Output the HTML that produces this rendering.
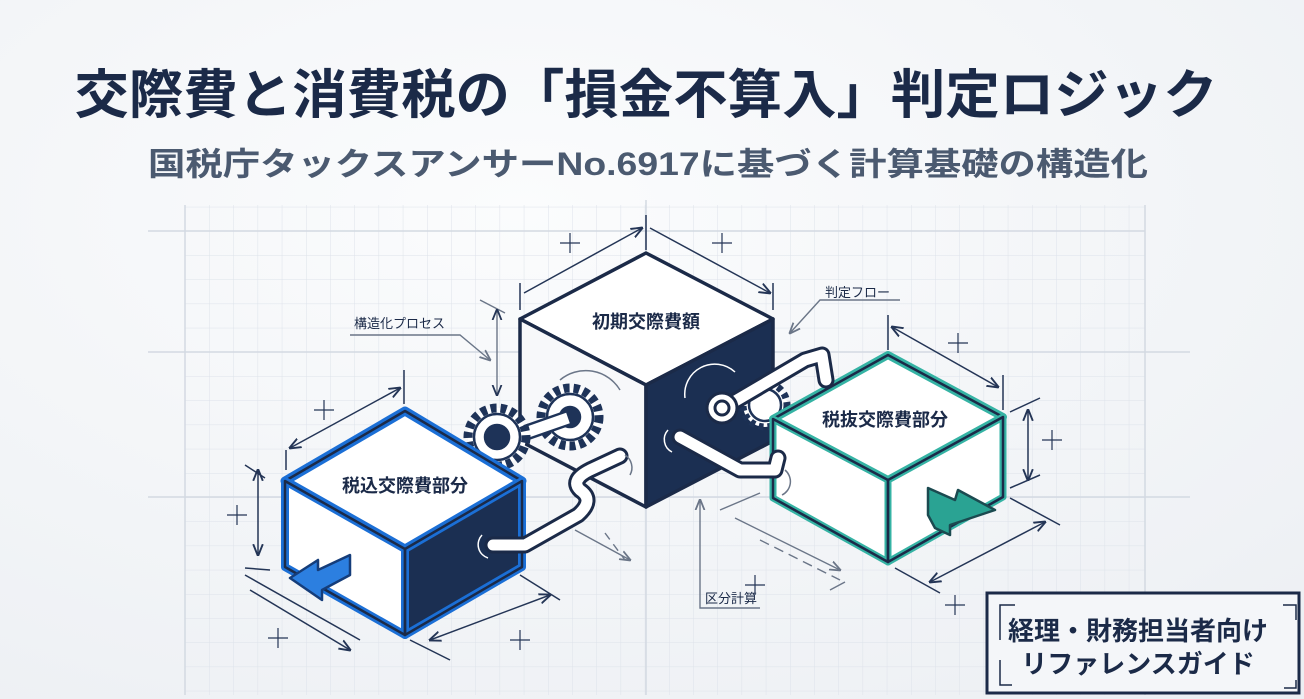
<!DOCTYPE html>
<html><head><meta charset="utf-8"><style>
html,body{margin:0;padding:0;width:1304px;height:699px;overflow:hidden;background:#f3f5f8}
svg{display:block}
</style></head><body>
<svg width="1304" height="699" viewBox="0 0 1304 699" xmlns="http://www.w3.org/2000/svg" font-family="'Liberation Sans','Noto Sans CJK JP',sans-serif">
<defs>
<radialGradient id="bg" cx="0.4" cy="0.3" r="0.9"><stop offset="0" stop-color="#fbfcfd"/><stop offset="1" stop-color="#eceff3"/></radialGradient>
<pattern id="grid" x="185" y="231" width="24.2" height="24.2" patternUnits="userSpaceOnUse"><path d="M0 0V24.2M0 0H24.2" stroke="#dde2ea" stroke-width="1" fill="none"/></pattern>
<marker id="ar" viewBox="0 0 10 10" refX="9" refY="5" markerWidth="8" markerHeight="8" orient="auto-start-reverse"><path d="M0 1L10 5L0 9" fill="none" stroke="#243556" stroke-width="1.6"/></marker>
<marker id="ag" viewBox="0 0 10 10" refX="9" refY="5" markerWidth="8" markerHeight="8" orient="auto-start-reverse"><path d="M0 1L10 5L0 9" fill="none" stroke="#6b7688" stroke-width="1.6"/></marker>
</defs>
<rect width="1304" height="699" fill="url(#bg)"/>
<rect x="185" y="205" width="960" height="490" fill="url(#grid)"/>
<g stroke="#d3d9e2" stroke-width="1.5">
<line x1="148" y1="231" x2="1145" y2="231"/><line x1="148" y1="352" x2="1190" y2="352"/><line x1="148" y1="497" x2="1190" y2="497"/>
<line x1="646" y1="200" x2="646" y2="695"/><line x1="1145" y1="205" x2="1145" y2="695"/><line x1="185" y1="205" x2="185" y2="695"/>
</g>
<text x="646" y="113" text-anchor="middle" font-size="53" font-weight="bold" fill="#1b2a48" textLength="1143" lengthAdjust="spacingAndGlyphs">交際費と消費税の「損金不算入」判定ロジック</text>
<text x="648" y="175" text-anchor="middle" font-size="32" font-weight="bold" fill="#4b5a70" textLength="1000" lengthAdjust="spacingAndGlyphs">国税庁タックスアンサーNo.6917に基づく計算基礎の構造化</text>

<!-- dimension lines -->
<g stroke="#243556" stroke-width="1.5" fill="none">
<line x1="646" y1="215" x2="646" y2="250"/>
<line x1="520" y1="283" x2="520" y2="310"/><line x1="773" y1="283" x2="773" y2="310"/>
<line x1="524" y1="293" x2="642" y2="228" marker-end="url(#ar)"/>
<line x1="650" y1="228" x2="770" y2="293" marker-end="url(#ar)"/>
<line x1="286" y1="450" x2="286" y2="470"/><line x1="404" y1="370" x2="404" y2="404"/>
<line x1="290" y1="448" x2="400" y2="388" marker-end="url(#ar)" marker-start="url(#ar)"/>
<line x1="245" y1="465" x2="265" y2="478"/><line x1="245" y1="568" x2="270" y2="570"/>
<line x1="258" y1="470" x2="258" y2="555" marker-end="url(#ar)" marker-start="url(#ar)"/>
<line x1="245" y1="575" x2="360" y2="640"/><line x1="250" y1="590" x2="350" y2="650" marker-end="url(#ar)"/>
<line x1="410" y1="640" x2="450" y2="660"/><line x1="520" y1="575" x2="560" y2="600"/>
<line x1="430" y1="640" x2="550" y2="595" marker-end="url(#ar)" marker-start="url(#ar)"/>
<line x1="888" y1="315" x2="888" y2="350"/><line x1="1003" y1="375" x2="1003" y2="410"/>
<line x1="892" y1="327" x2="998" y2="387" marker-end="url(#ar)" marker-start="url(#ar)"/>
<line x1="1010" y1="412" x2="1040" y2="398"/><line x1="1010" y1="488" x2="1040" y2="475"/>
<line x1="1028" y1="410" x2="1028" y2="480" marker-end="url(#ar)" marker-start="url(#ar)"/>
<line x1="895" y1="568" x2="940" y2="593"/><line x1="1010" y1="498" x2="1060" y2="525"/>
<line x1="930" y1="582" x2="1045" y2="522" marker-end="url(#ar)" marker-start="url(#ar)"/>
</g>
<g stroke="#6b7688" stroke-width="1.4" fill="none">
<line x1="480" y1="300" x2="505" y2="313"/><line x1="497" y1="310" x2="497" y2="395" marker-end="url(#ar)" marker-start="url(#ar)"/>
<polyline points="350,335 460,335 490,360" marker-end="url(#ag)"/>
<polyline points="900,300 820,300 790,333" marker-end="url(#ag)"/>
<line x1="605" y1="533" x2="625" y2="560" stroke-dasharray="8 6"/>
<line x1="575" y1="530" x2="630" y2="560" marker-end="url(#ag)"/>
<polyline points="760,608 700,608 700,500" marker-end="url(#ag)"/>
<line x1="720" y1="510" x2="760" y2="493"/><line x1="760" y1="540" x2="840" y2="580" stroke-dasharray="10 6"/>
<line x1="735" y1="518" x2="840" y2="570" marker-end="url(#ag)"/>
<line x1="830" y1="590" x2="845" y2="582"/>
</g>
<g stroke="#243556" stroke-width="1.2">
<path d="M570 233v20M560 243h20M722 233v20M712 243h20M324 400v20M314 410h20M237 505v20M227 515h20M278 628v20M268 638h20M520 630v20M510 640h20M958 333v20M948 343h20M1052 430v20M1042 440h20M955 595v20M945 605h20M755 575v20M745 585h20"/>
</g>

<!-- center cube -->
<g stroke="#1b2a48" stroke-width="3.5" stroke-linejoin="round">
<polygon points="646,253 773,319 646,385 520,319" fill="#fff"/>
<polygon points="520,319 646,385 646,507 520,441" fill="#f7f8fa"/>
<polygon points="646,385 773,319 773,441 646,507" fill="#1b2f52"/>
</g>
<text x="646" y="328" text-anchor="middle" font-size="18" font-weight="bold" fill="#1b2a48">初期交際費額</text>

<!-- gears (in front of center cube) -->
<g stroke="#1e3358" stroke-width="2.5" fill="#fff">
<circle cx="570" cy="417" r="29" stroke-dasharray="6 4" stroke-width="9"/>
<circle cx="570" cy="417" r="23"/><circle cx="570" cy="417" r="10" fill="#1e3358"/>
<circle cx="765" cy="405" r="22" stroke-dasharray="5 4" stroke-width="7"/>
<circle cx="765" cy="405" r="16"/>
</g>
<path d="M505 440 L568 418" stroke="#1e3358" stroke-width="16" fill="none"/>
<path d="M505 440 L568 418" stroke="#fff" stroke-width="11" fill="none"/>
<g stroke="#1e3358" stroke-width="2.5" fill="#fff">
<circle cx="497" cy="437" r="29" stroke-dasharray="6 4" stroke-width="9"/>
<circle cx="497" cy="437" r="23"/><circle cx="497" cy="437" r="12" fill="#1e3358"/>
</g>

<!-- left cube -->
<g stroke-linejoin="round">
<polygon points="405,411 522,481 405,549 285,481" fill="#fff" stroke="#1b6fd6" stroke-width="9"/>
<polygon points="405,411 522,481 405,549 285,481" fill="none" stroke="#1b2a48" stroke-width="2.5"/>
<polygon points="285,481 405,549 405,635 285,567" fill="#fff" stroke="#1b6fd6" stroke-width="8"/>
<polygon points="405,549 522,481 522,567 405,635" fill="#1b2f52" stroke="#1b6fd6" stroke-width="8"/>
<polygon points="285,481 405,549 405,635 285,567" fill="none" stroke="#1b2a48" stroke-width="2.5"/>
<polygon points="405,549 522,481 522,567 405,635" fill="none" stroke="#1b2a48" stroke-width="2.5"/>
</g>
<text x="405" y="492" text-anchor="middle" font-size="18" font-weight="bold" fill="#1b2a48">税込交際費部分</text>
<polygon points="290,578 318,560 318,570 350,555 350,575 322,590 322,600" fill="#2c7fe0" stroke="#153d7a" stroke-width="2.5" stroke-linejoin="round"/>

<!-- right cube -->
<g stroke-linejoin="round">
<polygon points="888,355 1003,417 888,480 773,419" fill="#fff" stroke="#35b3a4" stroke-width="8"/>
<polygon points="888,355 1003,417 888,480 773,419" fill="none" stroke="#1b2a48" stroke-width="2.5"/>
<polygon points="773,419 888,480 888,562 773,498" fill="#fff" stroke="#35b3a4" stroke-width="7"/>
<polygon points="888,480 1003,417 1003,497 888,562" fill="#fff" stroke="#35b3a4" stroke-width="7"/>
<polygon points="773,419 888,480 888,562 773,498" fill="none" stroke="#1b2a48" stroke-width="2.5"/>
<polygon points="888,480 1003,417 1003,497 888,562" fill="none" stroke="#1b2a48" stroke-width="2.5"/>
</g>
<text x="885" y="426" text-anchor="middle" font-size="18" font-weight="bold" fill="#1b2a48">税抜交際費部分</text>
<polygon points="928,488 955,500 958,490 995,510 950,525 950,535 935,528 928,515" fill="#2aa393" stroke="#1b4a50" stroke-width="2.5" stroke-linejoin="round"/>

<!-- pipes -->
<g fill="none" stroke-linecap="round" stroke-linejoin="round">
<path d="M493 545 L525 545 L578 515 Q595 500 580 490 Q570 480 590 470 L620 456" stroke="#1b2a48" stroke-width="17"/>
<path d="M493 545 L525 545 L578 515 Q595 500 580 490 Q570 480 590 470 L620 456" stroke="#fff" stroke-width="11"/>
<path d="M680 437 L740 470 L775 470 L778 458" stroke="#1b2a48" stroke-width="17"/>
<path d="M680 437 L740 470 L775 470 L778 458" stroke="#fff" stroke-width="11"/>
<path d="M720 410 L805 360 L822 355 L826 380" stroke="#1b2a48" stroke-width="17"/>
<path d="M720 410 L805 360 L822 355 L826 380" stroke="#fff" stroke-width="11"/>
</g>
<circle cx="722" cy="408" r="15" fill="#fff" stroke="#1b2a48" stroke-width="3"/>
<circle cx="722" cy="408" r="7" fill="#fff" stroke="#1b2a48" stroke-width="3"/>
<g fill="none" stroke="#fff" stroke-width="1.5">
<path d="M685 398 A30 30 0 0 1 735 372"/><path d="M668 430 A14 14 0 0 0 672 452"/><path d="M482 535 A14 14 0 0 0 488 558"/>
</g>
<g fill="none" stroke="#6b7688" stroke-width="1.5">
<path d="M560 380 A40 40 0 0 1 620 390"/><path d="M625 455 A15 15 0 0 1 630 475"/><path d="M785 470 A15 15 0 0 1 782 495"/>
</g>

<text x="354" y="328" font-size="13" fill="#1b2a48">構造化プロセス</text>
<text x="825" y="297" font-size="13" fill="#1b2a48">判定フロー</text>
<text x="705" y="603" font-size="13" fill="#1b2a48">区分計算</text>

<!-- badge -->
<rect x="987" y="593" width="312" height="100" fill="#f4f6f9" stroke="#1b2a48" stroke-width="3"/>
<path d="M1000 640V605h15M1283 605H1296V620M1000 660V685h12M1296 680V688h-12" fill="none" stroke="#1b2a48" stroke-width="1.5"/>
<text x="1138" y="640" text-anchor="middle" font-size="26" font-weight="bold" fill="#1b2a48">経理・財務担当者向け</text>
<text x="1138" y="673" text-anchor="middle" font-size="26" font-weight="bold" fill="#1b2a48">リファレンスガイド</text>
</svg>
</body></html>
